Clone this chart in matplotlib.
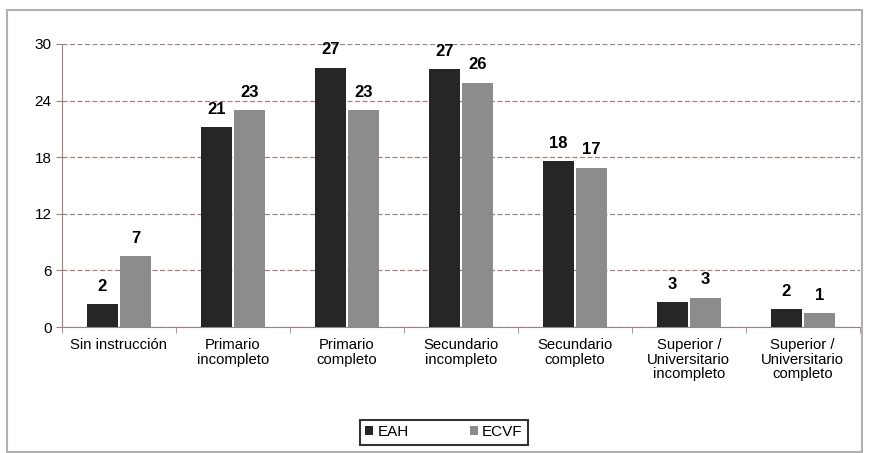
import matplotlib.pyplot as plt
from matplotlib.patches import Rectangle
import numpy as np

categories = ['Sin instrucción', 'Primario\nincompleto', 'Primario\ncompleto',
              'Secundario\nincompleto', 'Secundario\ncompleto',
              'Superior /\nUniversitario\nincompleto', 'Superior /\nUniversitario\ncompleto']
eah = [2.4, 21.2, 27.5, 27.3, 17.6, 2.65, 1.9]
ecvf = [7.5, 23.0, 23.0, 25.9, 16.9, 3.1, 1.5]
eah_labels = ['2', '21', '27', '27', '18', '3', '2']
ecvf_labels = ['7', '23', '23', '26', '17', '3', '1']
yticks = [0, 6, 12, 18, 24, 30]

plt.rcParams['font.family'] = ['Liberation Sans', 'DejaVu Sans']

fig = plt.figure(figsize=(8.69, 4.53), dpi=100)
fig.patches.append(Rectangle((0.008, 0.003), 0.984, 0.975, transform=fig.transFigure,
                             fill=False, edgecolor='#b0b0b0', linewidth=1.5))
ax = fig.add_axes([0.0713, 0.278, 0.918, 0.625])

x = np.arange(len(categories))
w = 0.27
b1 = ax.bar(x - w / 2 - 0.01, eah, w, color='#262626', label='EAH', zorder=3)
b2 = ax.bar(x + w / 2 + 0.01, ecvf, w, color='#8c8c8c', label='ECVF', zorder=3)

for rect, lab in zip(b1, eah_labels):
    ax.text(rect.get_x() + rect.get_width() / 2, rect.get_height() + 1.1, lab,
            ha='center', va='bottom', fontsize=12, fontweight='bold')
for rect, lab in zip(b2, ecvf_labels):
    ax.text(rect.get_x() + rect.get_width() / 2, rect.get_height() + 1.1, lab,
            ha='center', va='bottom', fontsize=12, fontweight='bold')

ax.set_xlim(-0.5, len(categories) - 0.5)
ax.set_ylim(0, 30)
ax.set_yticks(yticks)
ax.tick_params(axis='y', labelsize=11, length=4, color='#a08080')
ax.set_xticks(x)
ax.set_xticklabels(categories, fontsize=10.7, linespacing=1.05)
ax.tick_params(axis='x', length=0, pad=8)
ax.set_xticks(np.arange(-0.5, len(categories)), minor=True)
ax.tick_params(axis='x', which='minor', length=4, color='#a08080')

ax.yaxis.grid(True, linestyle=(0, (4, 2)), color='#a88080', linewidth=0.9, zorder=0)
for s in ['top', 'right']:
    ax.spines[s].set_visible(False)
ax.spines['left'].set_color('#a08080')
ax.spines['bottom'].set_color('#a08080')

leg = fig.legend(loc='lower center', bbox_to_anchor=(0.511, 0.012), ncol=2,
                 fontsize=11, frameon=True, fancybox=False, handlelength=0.5,
                 handleheight=0.5, handletextpad=0.3, columnspacing=4.0,
                 borderpad=0.35, borderaxespad=0.2)
leg.get_frame().set_edgecolor('black')
leg.get_frame().set_linewidth(1.5)
leg._legend_box.align = 'center'

fig.savefig('out.png', dpi=100)
